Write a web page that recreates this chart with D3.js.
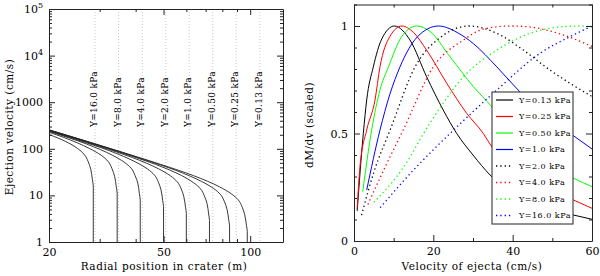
<!DOCTYPE html>
<html>
<head>
<meta charset="utf-8">
<script src="https://cdn.jsdelivr.net/npm/d3@7"></script>
<style>
  body { margin: 0; background: #fff; }
  svg { display: block; }
</style>
</head>
<body>
<div id="chart"></div>
<script>
// ---- left panel: ejection velocity vs radial position, one curve per strength
const yieldLabels = ['Y=16.0 kPa', 'Y=8.0 kPa', 'Y=4.0 kPa', 'Y=2.0 kPa',
                     'Y=1.0 kPa', 'Y=0.50 kPa', 'Y=0.25 kPa', 'Y=0.13 kPa']
// crater radius (m) where the dotted guide lines sit
const guideRadii = [28.9, 34.9, 42.2, 50.9, 61.4, 74.1, 89.4, 108]

// [radius (m), velocity (cm/s)]
const profile16 = [[20, 203], [22.8, 144.6], [25.1, 102.4], [26.5, 75.9], [27.36, 53.2], [27.93, 36.3], [28.3, 21.7], [28.5, 15.9], [28.5, 1]]
const profile8 = [[20, 227], [22.4, 177.5], [27.6, 102], [30.4, 72.3], [32.1, 53.5], [33.1, 37.6], [33.8, 25.6], [34.26, 15.3], [34.5, 11.2], [34.5, 1]]
const profile4 = [[20, 236.5], [27, 126.7], [33.2, 72.9], [36.5, 51.6], [38.6, 38.2], [39.8, 26.8], [40.7, 18.3], [41.2, 10.9], [41.5, 8], [41.5, 1]]
const profile2 = [[20, 243], [25, 156.6], [32.5, 90.4], [40, 52], [44, 36.8], [46.5, 27.3], [48, 19.1], [49, 13.1], [49.65, 7.8], [50, 5.7], [50, 1]]
const profile1 = [[20, 248], [30, 112.3], [39, 64.8], [48, 37.3], [52.8, 26.4], [55.8, 19.5], [57.6, 13.7], [58.8, 9.4], [59.6, 5.6], [60, 4.1], [60, 1]]
const profile050 = [[20, 251.6], [25.3, 161.4], [36.1, 80.2], [46.9, 46.3], [57.8, 26.6], [63.5, 18.8], [67.1, 14], [69.3, 9.8], [70.8, 6.7], [71.7, 4], [72.2, 2.9], [72.2, 1]]
const profile025 = [[20, 254], [29.7, 120.6], [42.4, 59.9], [55.1, 34.6], [67.8, 19.9], [74.6, 14.1], [78.9, 10.4], [81.4, 7.3], [83.1, 5], [84.2, 3], [84.8, 2.2], [84.8, 1]]
const profile013 = [[20, 255.7], [34.2, 92.9], [48.9, 46.2], [63.5, 26.6], [78.2, 15.3], [86, 10.8], [90.9, 8], [93.8, 5.6], [95.7, 3.85], [97, 2.3], [97.7, 1.69], [97.7, 1]]

const radiusMajor = [20, 50, 100]
const radiusMinor = [30, 40, 60, 70, 80, 90]
const velocityMajor = [1, 10, 100, 1000, 1e4, 1e5]

// ---- right panel: scaled mass distribution vs ejecta velocity
const legendLabels = ['Y=0.13 kPa', 'Y=0.25 kPa', 'Y=0.50 kPa', 'Y=1.0 kPa',
                      'Y=2.0 kPa', 'Y=4.0 kPa', 'Y=8.0 kPa', 'Y=16.0 kPa']
const seriesColors = ['#000', '#f00', '#0f0', '#00f', '#000', '#f00', '#0f0', '#00f']
const seriesDotted = [false, false, false, false, true, true, true, true]

// [velocity (cm/s), dM/dv scaled]
const dist013 = [[0.8, 0.14], [2.35, 0.5], [3.2, 0.656], [4.87, 0.81], [7, 0.94], [10.2, 1], [14.1, 0.935], [18.3, 0.764], [22.5, 0.609], [25.9, 0.5], [30, 0.4], [34.3, 0.307], [40, 0.22], [47, 0.16], [55.3, 0.121], [60, 0.101]]
const dist025 = [[0.8, 0.15], [1.5, 0.346], [3.2, 0.516], [5.3, 0.656], [6.55, 0.81], [9, 0.95], [12.1, 1], [15, 0.97], [18.3, 0.888], [23.4, 0.733], [28.4, 0.594], [32.6, 0.5], [34.7, 0.439], [40, 0.34], [47, 0.26], [55.3, 0.191], [60, 0.152]]
const dist050 = [[2.2, 0.229], [4.45, 0.516], [6.5, 0.7], [8.7, 0.81], [12, 0.95], [15.8, 1], [19.2, 0.974], [24.2, 0.857], [30.1, 0.718], [34.7, 0.625], [40, 0.5], [47, 0.38], [55.3, 0.292], [60, 0.253]]
const dist1 = [[3.2, 0.237], [6.55, 0.516], [9, 0.68], [11.6, 0.81], [16, 0.95], [21.3, 1], [26, 0.97], [30.1, 0.918], [36, 0.81], [41.8, 0.694], [47, 0.6], [55.3, 0.49], [60, 0.428]]
const dist2 = [[1.9, 0.12], [5, 0.32], [9.1, 0.516], [15.4, 0.81], [22, 0.95], [29, 1], [36, 0.966], [42.7, 0.888], [49.4, 0.795], [54.5, 0.733], [60, 0.672]]
const dist4 = [[3.5, 0.17], [8, 0.35], [12.4, 0.516], [20, 0.81], [27.6, 0.935], [32.6, 0.985], [39.5, 1], [43.5, 0.997], [52.8, 0.958], [60, 0.905]]
const dist8 = [[5, 0.18], [12, 0.33], [19.2, 0.55], [27.6, 0.764], [36, 0.888], [44.4, 0.966], [52.8, 0.997], [57, 1], [60, 0.995]]
const dist16 = [[6.6, 0.155], [15, 0.33], [24.2, 0.5], [36, 0.702], [46.9, 0.873], [55.3, 0.958], [60, 1]]

const speedMajor = [0, 20, 40, 60]
const speedMinor = [10, 30, 50]
const massMajor = [0, 0.5, 1]
const massMinor = [0.1, 0.2, 0.3, 0.4, 0.6, 0.7, 0.8, 0.9, 1.1]

const WIDTH = 600
const HEIGHT = 276
const FONT = 'DejaVu Serif'

const svg = d3.select('#chart').append('svg')
  .attr('width', WIDTH)
  .attr('height', HEIGHT)

// draws a framed box with inward ticks on all four sides
function drawFrame(x, y, xMajor, xMinor, yMajor, yMinor, xFmt, yFmt) {
  const [left, right] = x.range()
  const [bottom, top] = y.range()
  const sides = [
    [d3.axisBottom(x), `translate(0,${bottom})`, xMajor, xMinor, xFmt],
    [d3.axisTop(x), `translate(0,${top})`, xMajor, xMinor, () => ''],
    [d3.axisLeft(y), `translate(${left},0)`, yMajor, yMinor, yFmt],
    [d3.axisRight(y), `translate(${right},0)`, yMajor, yMinor, () => '']
  ]
  sides.forEach(([axis, tr, major, minor, fmt]) => {
    const g = svg.append('g').attr('transform', tr)
      .call(axis.tickValues(major).tickFormat(fmt).tickSizeInner(-6).tickSizeOuter(0).tickPadding(6))
      .attr('font-family', FONT)
      .attr('font-size', 11)
    g.select('.domain').attr('stroke', '#222')
    g.selectAll('.tick line').attr('stroke', '#222')
    svg.append('g').attr('transform', tr)
      .call(axis.tickValues(minor).tickFormat(() => '').tickSizeInner(-3).tickSizeOuter(0))
      .call(s => s.select('.domain').remove())
      .selectAll('.tick line').attr('stroke', '#222')
  })
}

// ================= left panel =================
const xR = d3.scaleLog().domain([20, 130]).range([49, 283])
const yV = d3.scaleLog().domain([1, 1e5]).range([242, 9])

// dotted guides + labels
guideRadii.forEach((r, i) => {
  svg.append('line')
    .attr('x1', xR(r)).attr('x2', xR(r))
    .attr('y1', yV.range()[1]).attr('y2', yV.range()[0])
    .attr('stroke', '#bdbdbd')
    .attr('stroke-width', 0.8)
    .attr('stroke-dasharray', '1,2')
  svg.append('text')
    .attr('transform', `translate(${xR(r) - 1},127) rotate(-90)`)
    .attr('dominant-baseline', 'central')
    .attr('font-family', FONT)
    .attr('font-size', 9)
    .attr('letter-spacing', 0.3)
    .text(yieldLabels[i])
})

const vMinor = []
velocityMajor.slice(0, -1).forEach(d => {
  for (let k = 2; k <= 9; k++) vMinor.push(d * k)
})

drawFrame(xR, yV, radiusMajor, radiusMinor, velocityMajor, vMinor,
  d => d, d => (d >= 1e4 ? '' : d))

// superscript labels for 10^4 and 10^5
velocityMajor.filter(d => d >= 1e4).forEach(d => {
  const t = svg.append('text')
    .attr('x', 43).attr('y', yV(d) + 4)
    .attr('text-anchor', 'end')
    .attr('font-family', FONT)
    .attr('font-size', 11)
  t.append('tspan').text('10')
  t.append('tspan').attr('dy', -5).attr('font-size', 8).text(Math.log10(d))
})

const profiles = [profile16, profile8, profile4, profile2, profile1, profile050, profile025, profile013]
const lineLeft = d3.line()
  .x(d => xR(d[0]))
  .y(d => yV(d[1]))
  .curve(d3.curveMonotoneY)

profiles.forEach(p => {
  svg.append('path')
    .datum(p)
    .attr('fill', 'none')
    .attr('stroke', '#222')
    .attr('stroke-width', 0.9)
    .attr('d', lineLeft)
})

svg.append('text')
  .attr('x', 164).attr('y', 270)
  .attr('text-anchor', 'middle')
  .attr('font-family', FONT)
  .attr('font-size', 10.5)
  .attr('letter-spacing', 0.55)
  .text('Radial position in crater (m)')

svg.append('text')
  .attr('transform', 'translate(13,127) rotate(-90)')
  .attr('text-anchor', 'middle')
  .attr('font-family', FONT)
  .attr('font-size', 10.5)
  .attr('letter-spacing', 0.5)
  .text('Ejection velocity (cm/s)')

// ================= right panel =================
const xS = d3.scaleLinear().domain([0, 60]).range([354, 592])
const yM = d3.scaleLinear().domain([0, 1.1]).range([241, 4.5])

const dists = [dist013, dist025, dist050, dist1, dist2, dist4, dist8, dist16]
const lineRight = d3.line()
  .x(d => xS(d[0]))
  .y(d => yM(d[1]))
  .curve(d3.curveMonotoneX)

dists.forEach((p, i) => {
  svg.append('path')
    .datum(p)
    .attr('fill', 'none')
    .attr('stroke', seriesColors[i])
    .attr('stroke-width', seriesDotted[i] ? 1.3 : 1)
    .attr('stroke-dasharray', seriesDotted[i] ? '1.3,3' : null)
    .attr('d', lineRight)
})

drawFrame(xS, yM, speedMajor, speedMinor, massMajor, massMinor, d => d, d => d)

// legend
const legend = svg.append('g').attr('transform', 'translate(492,92)')
legend.append('rect')
  .attr('width', 81).attr('height', 132)
  .attr('fill', '#fff')
  .attr('stroke', '#222')
legendLabels.forEach((lab, i) => {
  const yy = 8 + i * 16.5
  legend.append('line')
    .attr('x1', 4).attr('x2', 21)
    .attr('y1', yy).attr('y2', yy)
    .attr('stroke', seriesColors[i])
    .attr('stroke-width', seriesDotted[i] ? 1.3 : 1.2)
    .attr('stroke-dasharray', seriesDotted[i] ? '1.3,3' : null)
  legend.append('text')
    .attr('x', 27).attr('y', yy)
    .attr('dominant-baseline', 'central')
    .attr('font-family', FONT)
    .attr('font-size', 8)
    .attr('letter-spacing', 0.5)
    .text(lab)
})

svg.append('text')
  .attr('x', 472).attr('y', 270)
  .attr('text-anchor', 'middle')
  .attr('font-family', FONT)
  .attr('font-size', 10.5)
  .attr('letter-spacing', 0.55)
  .text('Velocity of ejecta (cm/s)')

svg.append('text')
  .attr('transform', 'translate(313,125) rotate(-90)')
  .attr('text-anchor', 'middle')
  .attr('font-family', FONT)
  .attr('font-size', 10.5)
  .attr('letter-spacing', 0.5)
  .text('dM/dv (scaled)')
</script>
</body>
</html>
